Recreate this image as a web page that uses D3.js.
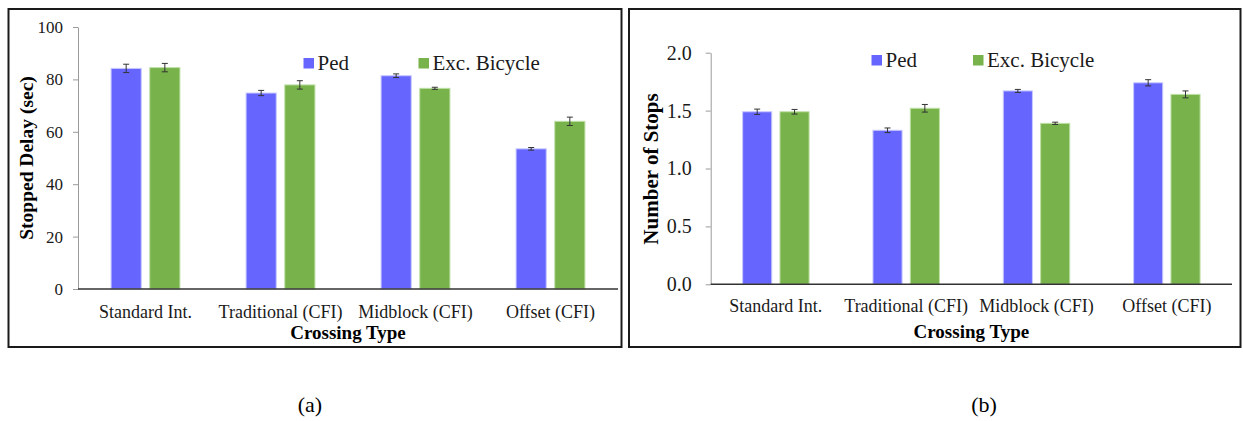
<!DOCTYPE html>
<html>
<head>
<meta charset="utf-8">
<script src="https://cdn.jsdelivr.net/npm/d3@7"></script>
<style>
  body { margin: 0; background: #fff; }
  svg, svg text { font-family: "Liberation Serif", "Times New Roman", serif; }
</style>
</head>
<body>
<div id="chart"></div>
<script>
let width = 1243,
  height = 421;

let categories = ["Standard Int.", "Traditional (CFI)", "Midblock (CFI)", "Offset (CFI)"];
let series = ["Ped", "Exc. Bicycle"];
let colors = ["#6666ff", "#77b24a"];
let edgeColors = ["#c8c8ff", "#bfe0a6"];

// panel (a): stopped delay
let delayPed = [84.2, 74.8, 81.4, 53.5];
let delayBike = [84.5, 77.9, 76.6, 64.0];
let delayPedErr = [1.6, 1.0, 0.7, 0.5];
let delayBikeErr = [1.6, 1.6, 0.4, 1.6];
let delayTicks = [0, 20, 40, 60, 80, 100];

// panel (b): number of stops
let stopsPed = [1.49, 1.33, 1.67, 1.74];
let stopsBike = [1.49, 1.52, 1.39, 1.64];
let stopsPedErr = [0.023, 0.02, 0.013, 0.027];
let stopsBikeErr = [0.02, 0.033, 0.01, 0.03];
let stopsTicks = [0, 0.5, 1.0, 1.5, 2.0];

let svg = d3.select("#chart")
  .append("svg")
  .attr("width", width)
  .attr("height", height)
  .style("display", "block");

function buildPanel(p) {
  let g = svg.append("g");

  // frame
  g.append("rect")
    .attr("x", p.box[0]).attr("y", p.box[1])
    .attr("width", p.box[2] - p.box[0]).attr("height", p.box[3] - p.box[1])
    .attr("fill", "none")
    .attr("stroke", "#1a1a1a")
    .attr("stroke-width", 2);

  let x0 = d3.scaleBand()
    .domain(categories)
    .range(p.xRange)
    .paddingInner(0.49)
    .paddingOuter(0.245);

  let x1 = d3.scaleBand()
    .domain(series)
    .range([0, x0.bandwidth()])
    .paddingInner(0.22);

  let y = d3.scaleLinear()
    .domain([0, p.ticks[p.ticks.length - 1]])
    .range(p.yRange);

  // y axis
  let yAxis = g.append("g")
    .attr("transform", `translate(${p.xRange[0]},0)`)
    .call(d3.axisLeft(y).tickValues(p.ticks).tickSize(5).tickSizeOuter(0).tickPadding(p.tickPad)
      .tickFormat(p.fmt))
    .attr("font-family", null)
    .attr("font-size", null);
  yAxis.select(".domain").attr("stroke", "#9a9a9a");
  yAxis.selectAll(".tick line").attr("stroke", "#9a9a9a");
  yAxis.selectAll("text")
    .attr("fill", "#1a1a1a")
    .style("font-size", p.tickFont + "px");

  let rows = categories.map((c, i) => ({
    cat: c,
    vals: [
      { s: series[0], v: p.ped[i], e: p.pedErr[i], k: 0 },
      { s: series[1], v: p.bike[i], e: p.bikeErr[i], k: 1 }
    ]
  }));

  let groups = g.selectAll(".grp")
    .data(rows)
    .join("g")
    .attr("transform", d => `translate(${x0(d.cat)},0)`);

  groups.selectAll("rect")
    .data(d => d.vals)
    .join("rect")
    .attr("x", d => x1(d.s))
    .attr("y", d => y(d.v))
    .attr("width", x1.bandwidth())
    .attr("height", d => y(0) - y(d.v))
    .attr("fill", d => colors[d.k])
    .attr("stroke", d => edgeColors[d.k])
    .attr("stroke-width", 1);

  // error bars
  let eb = groups.selectAll(".err")
    .data(d => d.vals)
    .join("g")
    .attr("stroke", "#333")
    .attr("stroke-width", 1);
  eb.append("line")
    .attr("x1", d => x1(d.s) + x1.bandwidth() / 2)
    .attr("x2", d => x1(d.s) + x1.bandwidth() / 2)
    .attr("y1", d => y(d.v + d.e))
    .attr("y2", d => y(d.v - d.e));
  eb.selectAll(".cap")
    .data(d => [d.v + d.e, d.v - d.e].map(v => ({ s: d.s, v: v })))
    .join("line")
    .attr("x1", d => x1(d.s) + x1.bandwidth() / 2 - 3)
    .attr("x2", d => x1(d.s) + x1.bandwidth() / 2 + 3)
    .attr("y1", d => y(d.v))
    .attr("y2", d => y(d.v));

  // x axis
  g.append("line")
    .attr("x1", p.xRange[0]).attr("x2", p.xRange[1])
    .attr("y1", y(0)).attr("y2", y(0))
    .attr("stroke", "#333")
    .attr("stroke-width", 1.5);

  g.selectAll(".xlab")
    .data(categories)
    .join("text")
    .attr("x", d => x0(d) + x0.bandwidth() / 2)
    .attr("y", p.xLabY)
    .attr("text-anchor", "middle")
    .attr("fill", "#1a1a1a")
    .style("font-size", "18px")
    .text(d => d);

  g.append("text")
    .attr("x", (p.xRange[0] + p.xRange[1]) / 2)
    .attr("y", p.xTitleY)
    .attr("text-anchor", "middle")
    .style("font-weight", "bold")
    .style("font-size", "19px")
    .text("Crossing Type");

  g.append("text")
    .attr("transform", `translate(${p.yTitle[0]},${p.yTitle[1]}) rotate(-90)`)
    .attr("text-anchor", "middle")
    .attr("dy", "0.35em")
    .style("font-weight", "bold")
    .style("font-size", p.yTitleFont + "px")
    .text(p.yTitleText);

  // legend
  series.forEach((s, i) => {
    let lx = p.legend[i], ly = p.legendY;
    g.append("rect")
      .attr("x", lx).attr("y", ly)
      .attr("width", 10.5).attr("height", 10.5)
      .attr("fill", colors[i]);
    g.append("text")
      .attr("x", lx + 14)
      .attr("y", ly + 12)
      .attr("fill", "#1a1a1a")
      .style("font-size", "21px")
      .text(s);
  });

  // caption
  svg.append("text")
    .attr("x", p.caption)
    .attr("y", 412)
    .attr("text-anchor", "middle")
    .style("font-size", "22px")
    .text(p.captionText);
}

buildPanel({
  box: [8.5, 9, 621.5, 347],
  xRange: [78, 618],
  yRange: [289, 27],
  ticks: delayTicks,
  fmt: d3.format("d"),
  tickFont: 17,
  tickPad: 10,
  ped: delayPed, bike: delayBike, pedErr: delayPedErr, bikeErr: delayBikeErr,
  xLabY: 318,
  xTitleY: 339,
  yTitle: [26, 158],
  yTitleFont: 19.5,
  yTitleText: "Stopped Delay (sec)",
  legend: [303.5, 418.5],
  legendY: 58,
  caption: 310,
  captionText: "(a)"
});

buildPanel({
  box: [629, 9, 1240.5, 347],
  xRange: [710.7, 1232],
  yRange: [284.3, 52.7],
  ticks: stopsTicks,
  fmt: d3.format(".1f"),
  tickFont: 20,
  tickPad: 14,
  ped: stopsPed, bike: stopsBike, pedErr: stopsPedErr, bikeErr: stopsBikeErr,
  xLabY: 312,
  xTitleY: 338,
  yTitle: [651, 169],
  yTitleFont: 21,
  yTitleText: "Number of Stops",
  legend: [871.5, 973],
  legendY: 55,
  caption: 984,
  captionText: "(b)"
});
</script>
</body>
</html>
